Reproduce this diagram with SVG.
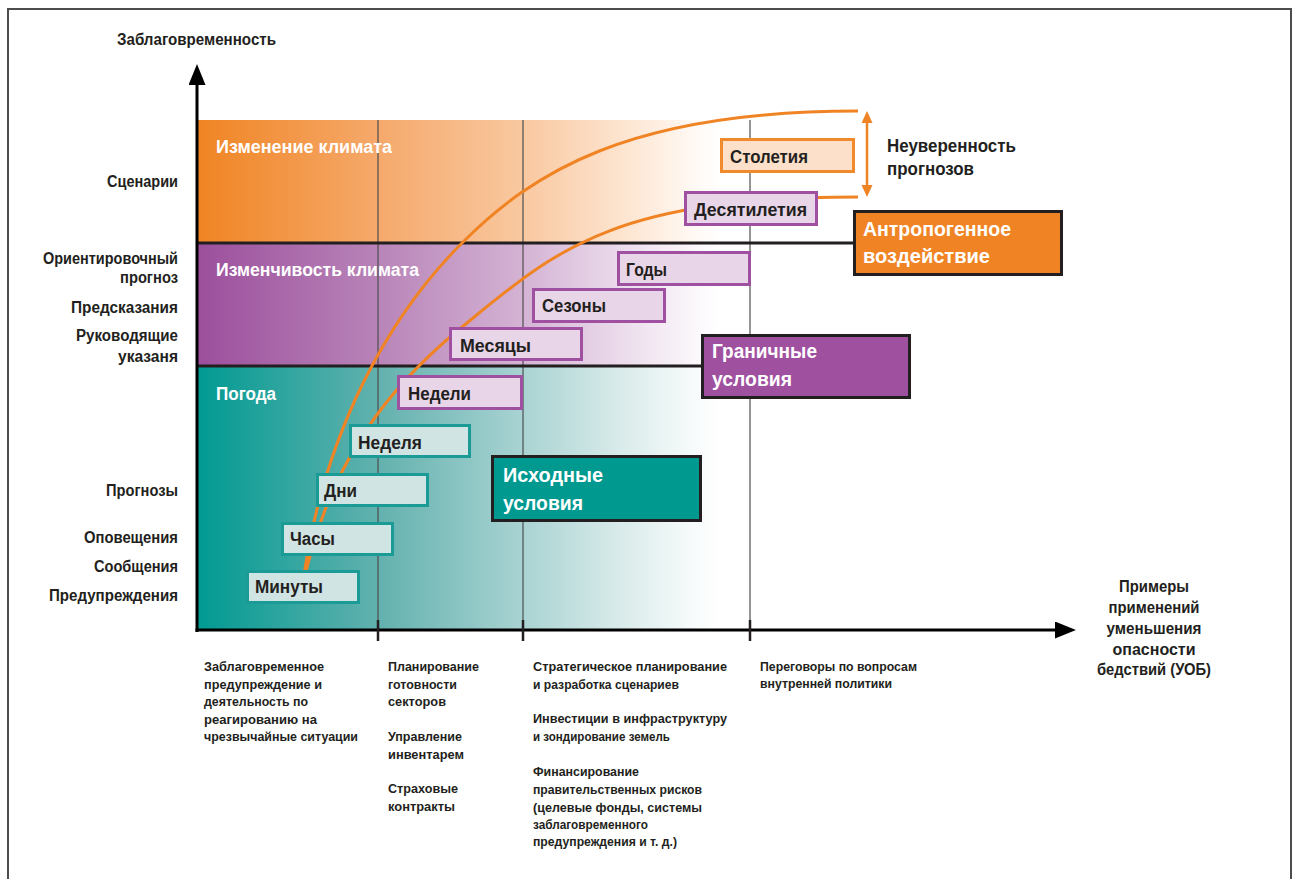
<svg xmlns="http://www.w3.org/2000/svg" width="1293" height="879" viewBox="0 0 1293 879">
<style>
.t{font-family:"Liberation Sans",Arial,sans-serif;font-weight:bold;fill:#231f20}
.ax{font-size:16px;text-anchor:end}
.ttl{font-size:16px}
.bl{font-size:18px;fill:#fff}
.bx{font-size:18px}
.big{font-size:20px;fill:#fff}
.unc{font-size:19px}
.sm{font-size:12.5px}
.rl{font-size:16px;text-anchor:middle}
.grid{stroke:#4d4d4d;stroke-width:1.2;fill:none}
.tick{stroke:#231f20;stroke-width:2.5}
.sep{stroke:#231f20;stroke-width:3}
.axis{stroke:#000;stroke-width:3;fill:none}
.curve{stroke:#f08424;stroke-width:3;fill:none}
.tealb{fill:#cfe4e3;stroke:#1a9b95;stroke-width:3}
.purb{fill:#e8d5e8;stroke:#a050a0;stroke-width:3}
.orb{fill:#fde0c9;stroke:#f08a2c;stroke-width:3}
.bigb{stroke:#231f20;stroke-width:3}
</style>
<defs>
<linearGradient id="gOr" gradientUnits="userSpaceOnUse" x1="197" y1="0" x2="720" y2="0">
<stop offset="0" stop-color="#f08423"/>
<stop offset="0.346" stop-color="#f5a96b"/>
<stop offset="0.623" stop-color="#f9c8a0"/>
<stop offset="0.81" stop-color="#fde4cf"/>
<stop offset="0.96" stop-color="#fffaf6"/>
<stop offset="1" stop-color="#ffffff"/>
</linearGradient>
<linearGradient id="gPu" gradientUnits="userSpaceOnUse" x1="197" y1="0" x2="720" y2="0">
<stop offset="0" stop-color="#9c4f9c"/>
<stop offset="0.346" stop-color="#b884b8"/>
<stop offset="0.623" stop-color="#d4b3d4"/>
<stop offset="0.81" stop-color="#ebdbeb"/>
<stop offset="0.96" stop-color="#fcf9fc"/>
<stop offset="1" stop-color="#ffffff"/>
</linearGradient>
<linearGradient id="gTe" gradientUnits="userSpaceOnUse" x1="197" y1="0" x2="720" y2="0">
<stop offset="0" stop-color="#009a92"/>
<stop offset="0.346" stop-color="#62b1ae"/>
<stop offset="0.623" stop-color="#a9d3d2"/>
<stop offset="0.81" stop-color="#d9ebea"/>
<stop offset="0.96" stop-color="#f9fcfc"/>
<stop offset="1" stop-color="#ffffff"/>
</linearGradient>
<marker id="axArr" markerUnits="userSpaceOnUse" markerWidth="22" markerHeight="18" refX="10" refY="8.5" orient="auto">
<path d="M0,0 L21,8.5 L0,17 Z" fill="#000"/>
</marker>
<marker id="orArr" markerUnits="userSpaceOnUse" markerWidth="14" markerHeight="12" refX="4" refY="5.5" orient="auto-start-reverse">
<path d="M0,0 L12,5.5 L0,11 Z" fill="#f08424"/>
</marker>
</defs>

<g id="frame" stroke="#4d4d4d" stroke-width="2" fill="none">
<path d="M8,879 L8,9 L1291,9 L1291,879"/>
</g>

<g id="bands">
<rect id="band-climate-change" x="197" y="120" width="530" height="123" fill="url(#gOr)"/>
<rect id="band-climate-variability" x="197" y="243" width="530" height="123" fill="url(#gPu)"/>
<rect id="band-weather" x="197" y="366" width="530" height="264" fill="url(#gTe)"/>
</g>

<g id="grid">
<line class="grid" x1="378" y1="120" x2="378" y2="630"/>
<line class="grid" x1="523" y1="120" x2="523" y2="630"/>
<line class="grid" x1="750" y1="120" x2="750" y2="630"/>
<line class="sep" x1="197" y1="243" x2="855" y2="243"/>
<line class="sep" x1="197" y1="366" x2="703" y2="366"/>
</g>

<g id="connectors">
<path class="curve" d="M302,590 C322,430 392,313 462,243 C532,173 628,111 858,111"/>
<path class="curve" d="M302,590 C328,460 392,384 462,327 C552,254 608,197 858,197"/>
<line x1="867" y1="119" x2="867" y2="189" stroke="#f08424" stroke-width="2.5" marker-start="url(#orArr)" marker-end="url(#orArr)"/>
<line class="axis" x1="197" y1="632" x2="197" y2="75" marker-end="url(#axArr)"/>
<line class="axis" x1="195.5" y1="630" x2="1065" y2="630" marker-end="url(#axArr)"/>
<line class="tick" x1="378" y1="620" x2="378" y2="641"/>
<line class="tick" x1="523" y1="620" x2="523" y2="641"/>
<line class="tick" x1="750" y1="620" x2="750" y2="641"/>
</g>

<g id="axis-labels" class="t">
<text class="ttl" x="117" y="45" textLength="159" lengthAdjust="spacingAndGlyphs">Заблаговременность</text>
<text class="ax" x="178" y="187" textLength="71" lengthAdjust="spacingAndGlyphs">Сценарии</text>
<text class="ax" x="178" y="264" textLength="135" lengthAdjust="spacingAndGlyphs">Ориентировочный</text>
<text class="ax" x="178" y="283" textLength="58" lengthAdjust="spacingAndGlyphs">прогноз</text>
<text class="ax" x="178" y="313" textLength="107" lengthAdjust="spacingAndGlyphs">Предсказания</text>
<text class="ax" x="178" y="341" textLength="102" lengthAdjust="spacingAndGlyphs">Руководящие</text>
<text class="ax" x="178" y="362" textLength="60" lengthAdjust="spacingAndGlyphs">указаня</text>
<text class="ax" x="178" y="496" textLength="72" lengthAdjust="spacingAndGlyphs">Прогнозы</text>
<text class="ax" x="178" y="543" textLength="94" lengthAdjust="spacingAndGlyphs">Оповещения</text>
<text class="ax" x="178" y="572" textLength="84" lengthAdjust="spacingAndGlyphs">Сообщения</text>
<text class="ax" x="178" y="601" textLength="129" lengthAdjust="spacingAndGlyphs">Предупреждения</text>
</g>

<g id="band-labels" class="t">
<text class="bl" x="216" y="153" textLength="176" lengthAdjust="spacingAndGlyphs">Изменение климата</text>
<text class="bl" x="216" y="276" textLength="203" lengthAdjust="spacingAndGlyphs">Изменчивость климата</text>
<text class="bl" x="216" y="400" textLength="60" lengthAdjust="spacingAndGlyphs">Погода</text>
</g>

<g id="node-minuty"><rect class="tealb" x="247.5" y="571.5" width="111" height="31"/><text class="t bx" x="255" y="593" textLength="68" lengthAdjust="spacingAndGlyphs">Минуты</text></g>
<g id="node-chasy"><rect class="tealb" x="282.5" y="523.5" width="110" height="31"/><text class="t bx" x="290" y="545" textLength="45" lengthAdjust="spacingAndGlyphs">Часы</text></g>
<g id="node-dni"><rect class="tealb" x="317.5" y="474.5" width="110" height="31"/><text class="t bx" x="324" y="497" textLength="33" lengthAdjust="spacingAndGlyphs">Дни</text></g>
<g id="node-nedelya"><rect class="tealb" x="350.5" y="425.5" width="119" height="31"/><text class="t bx" x="358" y="449" textLength="64" lengthAdjust="spacingAndGlyphs">Неделя</text></g>
<g id="node-nedeli"><rect class="purb" x="398.5" y="376.5" width="123" height="32"/><text class="t bx" x="408" y="400" textLength="63" lengthAdjust="spacingAndGlyphs">Недели</text></g>
<g id="node-mesyacy"><rect class="purb" x="450.5" y="328.5" width="131" height="31"/><text class="t bx" x="460" y="352" textLength="71" lengthAdjust="spacingAndGlyphs">Месяцы</text></g>
<g id="node-sezony"><rect class="purb" x="533.5" y="289.5" width="131" height="32"/><text class="t bx" x="542" y="312" textLength="64" lengthAdjust="spacingAndGlyphs">Сезоны</text></g>
<g id="node-gody"><rect class="purb" x="618.5" y="252.5" width="131" height="32"/><text class="t bx" x="626" y="276" textLength="41" lengthAdjust="spacingAndGlyphs">Годы</text></g>
<g id="node-desyatiletiya"><rect class="purb" x="685.5" y="192.5" width="131" height="32"/><text class="t bx" x="694" y="216" textLength="113" lengthAdjust="spacingAndGlyphs">Десятилетия</text></g>
<g id="node-stoletiya"><rect class="orb" x="721.5" y="139.5" width="132" height="32"/><text class="t bx" x="730" y="163" textLength="78" lengthAdjust="spacingAndGlyphs">Столетия</text></g>

<g id="node-antropogennoe"><rect class="bigb" x="854.5" y="211.5" width="207" height="63" fill="#f08424"/>
<text class="t big" x="863" y="236" textLength="148" lengthAdjust="spacingAndGlyphs">Антропогенное</text>
<text class="t big" x="863" y="263" textLength="127" lengthAdjust="spacingAndGlyphs">воздействие</text></g>
<g id="node-granichnye"><rect class="bigb" x="702.5" y="335.5" width="207" height="62" fill="#9f509f"/>
<text class="t big" x="712" y="358" textLength="105" lengthAdjust="spacingAndGlyphs">Граничные</text>
<text class="t big" x="712" y="386" textLength="80" lengthAdjust="spacingAndGlyphs">условия</text></g>
<g id="node-ishodnye"><rect class="bigb" x="492.5" y="456.5" width="208" height="64" fill="#009990"/>
<text class="t big" x="503" y="482" textLength="100" lengthAdjust="spacingAndGlyphs">Исходные</text>
<text class="t big" x="503" y="510" textLength="80" lengthAdjust="spacingAndGlyphs">условия</text></g>

<g id="uncertainty-label" class="t">
<text class="unc" x="887" y="152" textLength="129" lengthAdjust="spacingAndGlyphs">Неуверенность</text>
<text class="unc" x="887" y="175" textLength="87" lengthAdjust="spacingAndGlyphs">прогнозов</text>
</g>

<g id="x-axis-label" class="t">
<text class="rl" x="1154" y="592" textLength="70" lengthAdjust="spacingAndGlyphs">Примеры</text>
<text class="rl" x="1154" y="613" textLength="91" lengthAdjust="spacingAndGlyphs">применений</text>
<text class="rl" x="1154" y="634" textLength="95" lengthAdjust="spacingAndGlyphs">уменьшения</text>
<text class="rl" x="1154" y="655" textLength="83" lengthAdjust="spacingAndGlyphs">опасности</text>
<text class="rl" x="1154" y="675" textLength="114" lengthAdjust="spacingAndGlyphs">бедствий (УОБ)</text>
</g>

<g id="applications-1" class="t sm">
<text x="204" y="671" textLength="120" lengthAdjust="spacingAndGlyphs">Заблаговременное</text>
<text x="204" y="689" textLength="118" lengthAdjust="spacingAndGlyphs">предупреждение и</text>
<text x="204" y="706" textLength="104" lengthAdjust="spacingAndGlyphs">деятельность по</text>
<text x="204" y="724" textLength="113" lengthAdjust="spacingAndGlyphs">реагированию на</text>
<text x="204" y="741" textLength="154" lengthAdjust="spacingAndGlyphs">чрезвычайные ситуации</text>
</g>
<g id="applications-2" class="t sm">
<text x="388" y="671" textLength="91" lengthAdjust="spacingAndGlyphs">Планирование</text>
<text x="388" y="689" textLength="69" lengthAdjust="spacingAndGlyphs">готовности</text>
<text x="388" y="706" textLength="58" lengthAdjust="spacingAndGlyphs">секторов</text>
<text x="388" y="741" textLength="74" lengthAdjust="spacingAndGlyphs">Управление</text>
<text x="388" y="759" textLength="76" lengthAdjust="spacingAndGlyphs">инвентарем</text>
<text x="388" y="793" textLength="70" lengthAdjust="spacingAndGlyphs">Страховые</text>
<text x="388" y="811" textLength="67" lengthAdjust="spacingAndGlyphs">контракты</text>
</g>
<g id="applications-3" class="t sm">
<text x="533" y="671" textLength="194" lengthAdjust="spacingAndGlyphs">Стратегическое планирование</text>
<text x="533" y="689" textLength="146" lengthAdjust="spacingAndGlyphs">и разработка сценариев</text>
<text x="533" y="723" textLength="194" lengthAdjust="spacingAndGlyphs">Инвестиции в инфраструктуру</text>
<text x="533" y="741" textLength="137" lengthAdjust="spacingAndGlyphs">и зондирование земель</text>
<text x="533" y="776" textLength="106" lengthAdjust="spacingAndGlyphs">Финансирование</text>
<text x="533" y="794" textLength="169" lengthAdjust="spacingAndGlyphs">правительственных рисков</text>
<text x="533" y="812" textLength="169" lengthAdjust="spacingAndGlyphs">(целевые фонды, системы</text>
<text x="533" y="829" textLength="115" lengthAdjust="spacingAndGlyphs">заблаговременного</text>
<text x="533" y="846" textLength="144" lengthAdjust="spacingAndGlyphs">предупреждения и т. д.)</text>
</g>
<g id="applications-4" class="t sm">
<text x="760" y="671" textLength="157" lengthAdjust="spacingAndGlyphs">Переговоры по вопросам</text>
<text x="760" y="688" textLength="132" lengthAdjust="spacingAndGlyphs">внутренней политики</text>
</g>
</svg>
